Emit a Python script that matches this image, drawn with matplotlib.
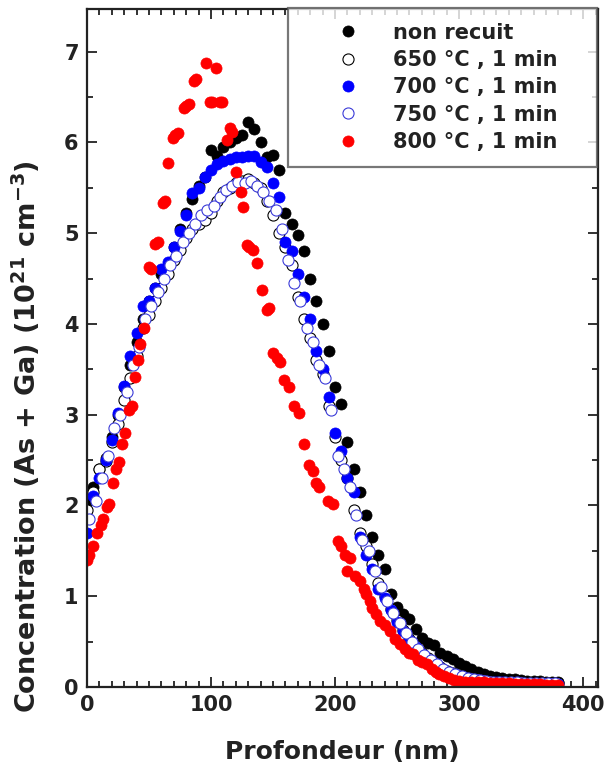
import matplotlib
matplotlib.use("Agg")
import matplotlib.pyplot as plt
from matplotlib.ticker import MultipleLocator

plt.rcParams['font.family'] = ['DejaVu Sans']
plt.rcParams['font.weight'] = 'bold'

# ---- data ----
x_nr = [0, 5, 10, 15, 20, 25, 30, 35, 40, 45, 50, 55, 60, 65, 70, 75, 80, 85, 90, 95,
        100, 105, 110, 115, 120, 125, 130, 135, 140, 145, 150, 155, 160, 165, 170, 175,
        180, 185, 190, 195, 200, 205, 210, 215, 220, 225, 230, 235, 240, 245, 250, 255,
        260, 265, 270, 275, 280, 285, 290, 295, 300, 305, 310, 315, 320, 325, 330, 335,
        340, 345, 350, 355, 360, 365, 370, 375, 380]
y_nr = [2.05, 2.20, 2.40, 2.52, 2.75, 3.00, 3.30, 3.55, 3.80, 4.05, 4.25, 4.40, 4.55, 4.65,
        4.85, 5.05, 5.22, 5.38, 5.52, 5.62, 5.92, 5.85, 5.95, 6.00, 6.05, 6.08, 6.22, 6.15,
        6.00, 5.84, 5.86, 5.70, 5.22, 5.10, 4.98, 4.80, 4.50, 4.25, 4.00, 3.70, 3.30, 3.12,
        2.70, 2.40, 2.15, 1.90, 1.65, 1.45, 1.30, 1.02, 0.88, 0.80, 0.75, 0.64, 0.54, 0.49,
        0.46, 0.38, 0.34, 0.31, 0.26, 0.23, 0.20, 0.17, 0.14, 0.12, 0.11, 0.10, 0.09, 0.09,
        0.08, 0.07, 0.07, 0.07, 0.06, 0.05, 0.05]

x_650 = x_nr
y_650 = [1.95, 2.15, 2.40, 2.49, 2.70, 2.90, 3.16, 3.40, 3.65, 3.95, 4.10, 4.25, 4.40, 4.55,
         4.70, 4.82, 4.95, 5.05, 5.10, 5.15, 5.22, 5.36, 5.45, 5.50, 5.55, 5.58, 5.60, 5.55,
         5.50, 5.35, 5.20, 5.00, 4.85, 4.65, 4.30, 4.05, 3.85, 3.60, 3.45, 3.10, 2.75, 2.50,
         2.30, 1.95, 1.70, 1.55, 1.35, 1.15, 1.00, 0.86, 0.74, 0.63, 0.53, 0.45, 0.38, 0.32,
         0.27, 0.22, 0.18, 0.15, 0.13, 0.11, 0.10, 0.09, 0.08, 0.07, 0.06, 0.06, 0.05, 0.05,
         0.05, 0.04, 0.04, 0.04, 0.04, 0.04, 0.04]

x_700 = x_nr
y_700 = [1.70, 2.10, 2.30, 2.50, 2.72, 3.02, 3.32, 3.65, 3.90, 4.20, 4.25, 4.40, 4.60, 4.68,
         4.85, 5.02, 5.20, 5.44, 5.50, 5.62, 5.70, 5.76, 5.80, 5.82, 5.84, 5.84, 5.85, 5.85,
         5.78, 5.73, 5.55, 5.40, 4.90, 4.80, 4.55, 4.30, 4.05, 3.70, 3.50, 3.20, 2.80, 2.60,
         2.30, 2.15, 1.65, 1.45, 1.30, 1.08, 0.98, 0.85, 0.72, 0.62, 0.52, 0.44, 0.36, 0.30,
         0.25, 0.21, 0.17, 0.14, 0.12, 0.10, 0.09, 0.08, 0.07, 0.06, 0.05, 0.05, 0.04, 0.04,
         0.04, 0.03, 0.03, 0.03, 0.03, 0.03, 0.03]

x_750 = [2, 7, 12, 17, 22, 27, 32, 37, 42, 47, 52, 57, 62, 67, 72, 77, 82, 87, 92, 97,
         102, 107, 112, 117, 122, 127, 132, 137, 142, 147, 152, 157, 162, 167, 172, 177,
         182, 187, 192, 197, 202, 207, 212, 217, 222, 227, 232, 237, 242, 247, 252, 257,
         262, 267, 272, 277, 282, 287, 292, 297, 302, 307, 312, 317, 322, 327, 332, 337,
         342, 347, 352, 357, 362, 367, 372, 377]
y_750 = [1.85, 2.05, 2.30, 2.55, 2.85, 3.00, 3.25, 3.55, 3.75, 4.05, 4.20, 4.35, 4.50, 4.65,
         4.75, 4.90, 5.00, 5.10, 5.20, 5.25, 5.30, 5.40, 5.48, 5.52, 5.56, 5.55, 5.58, 5.52,
         5.45, 5.35, 5.25, 5.05, 4.70, 4.45, 4.25, 3.95, 3.80, 3.55, 3.40, 3.05, 2.55, 2.40,
         2.20, 1.90, 1.62, 1.50, 1.28, 1.10, 0.95, 0.82, 0.70, 0.60, 0.50, 0.42, 0.35, 0.30,
         0.25, 0.20, 0.17, 0.14, 0.12, 0.10, 0.09, 0.08, 0.07, 0.06, 0.06, 0.05, 0.05, 0.05,
         0.04, 0.04, 0.04, 0.04, 0.04, 0.04]

x_800 = [0, 2, 5, 8, 11, 13, 16, 18, 21, 23, 26, 28, 31, 34, 36, 39, 41, 43, 46, 50,
         52, 55, 57, 61, 63, 65, 69, 71, 73, 78, 80, 82, 86, 88, 96, 99, 101, 104, 107,
         109, 113, 115, 117, 120, 124, 126, 129, 131, 134, 137, 141, 145, 147, 150, 153,
         156, 159, 163, 167, 171, 175, 179, 182, 185, 187, 194, 198, 202, 205, 208, 210,
         212, 216, 220, 223, 225, 228, 230, 233, 236, 240, 244, 248, 252, 256, 260, 263,
         267, 270, 274, 278, 281, 284, 288, 292, 296, 300, 305, 310, 315, 320, 325, 330,
         335, 340, 345, 350, 355, 360, 365, 370, 375, 380]
y_800 = [1.40, 1.45, 1.55, 1.70, 1.78, 1.85, 1.98, 2.02, 2.25, 2.40, 2.48, 2.68, 2.80, 3.05,
         3.10, 3.42, 3.60, 3.78, 3.96, 4.63, 4.60, 4.88, 4.90, 5.33, 5.36, 5.77, 6.05, 6.08,
         6.10, 6.38, 6.40, 6.42, 6.68, 6.70, 6.88, 6.45, 6.45, 6.82, 6.45, 6.45, 6.03, 6.16,
         6.12, 5.67, 5.45, 5.29, 4.87, 4.85, 4.81, 4.67, 4.37, 4.15, 4.18, 3.68, 3.62, 3.58,
         3.38, 3.30, 3.10, 3.02, 2.68, 2.45, 2.38, 2.25, 2.20, 2.05, 2.02, 1.61, 1.55, 1.45,
         1.28, 1.42, 1.22, 1.17, 1.08, 1.03, 0.95, 0.87, 0.80, 0.73, 0.68, 0.62, 0.53, 0.47,
         0.42, 0.38, 0.36, 0.30, 0.28, 0.25, 0.20, 0.17, 0.14, 0.12, 0.10, 0.08, 0.07, 0.06,
         0.06, 0.05, 0.05, 0.04, 0.04, 0.04, 0.04, 0.03, 0.03, 0.03, 0.03, 0.03, 0.02, 0.02,
         0.02]

labels = ["non recuit", "650 °C , 1 min", "700 °C , 1 min", "750 °C , 1 min", "800 °C , 1 min"]
x_ticks = [0, 100, 200, 300, 400]
y_ticks = [0, 1, 2, 3, 4, 5, 6, 7]

# ---- figure ----
fig = plt.figure(figsize=(6.09, 7.75), dpi=100)
ax = fig.add_axes([87/609, 1-687/775, (598-87)/609, (687-9)/775])

ms = 8
ax.plot(x_nr, y_nr, 'o', ms=ms, mfc='black', mec='black', mew=0.5, label=labels[0])
ax.plot(x_650, y_650, 'o', ms=ms, mfc='white', mec='black', mew=0.8, label=labels[1])
ax.plot(x_700, y_700, 'o', ms=ms, mfc='#0000ff', mec='#0000ff', mew=0.5, label=labels[2])
ax.plot(x_750, y_750, 'o', ms=ms, mfc='white', mec='#3a3ad8', mew=0.8, label=labels[3])
ax.plot(x_800, y_800, 'o', ms=ms, mfc='#ff0000', mec='#ff0000', mew=0.5, label=labels[4])

ax.set_xlim(0, 412)
ax.set_ylim(0, 7.47)
ax.set_xticks(x_ticks)
ax.set_yticks(y_ticks)
ax.xaxis.set_minor_locator(MultipleLocator(10))
ax.yaxis.set_minor_locator(MultipleLocator(0.5))
ax.tick_params(which='both', direction='in', top=True, right=True, width=1.3,
               labelsize=15, colors='#222222', pad=6)
ax.tick_params(which='major', length=7)
ax.tick_params(which='minor', length=4)
for lab in ax.get_xticklabels() + ax.get_yticklabels():
    lab.set_fontweight('bold')
for s in ax.spines.values():
    s.set_linewidth(1.6)
    s.set_color('#222222')

ax.set_xlabel("Profondeur (nm)", fontsize=18, fontweight='bold', color='#222222', labelpad=18)
ax.set_ylabel("Concentration (As + Ga) (10$^{\\mathbf{21}}$ cm$^{\\mathbf{-3}}$)",
              fontsize=19.5, fontweight='bold', color='#222222')
ax.yaxis.set_label_coords(-0.088, 0.37)

leg = ax.legend(loc='upper right', bbox_to_anchor=(0.393, 0.74, 0.605, 0.262),
                mode='expand', borderaxespad=0, frameon=True, fancybox=False,
                fontsize=15, handlelength=4.3, handletextpad=0.05, borderpad=0.72,
                labelspacing=0.35, markerscale=1.0)
leg.get_frame().set_edgecolor('#555555')
leg.get_frame().set_linewidth(1.6)
for t in leg.get_texts():
    t.set_fontweight('bold')
    t.set_color('#222222')

fig.savefig("out.png", dpi=100)
